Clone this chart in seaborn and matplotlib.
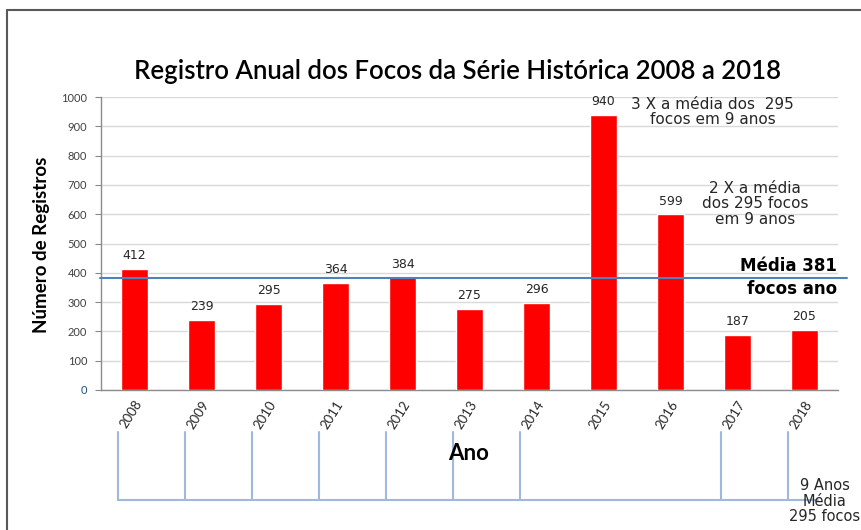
import matplotlib
matplotlib.use("Agg")
import matplotlib.pyplot as plt
from matplotlib.lines import Line2D
import matplotlib.transforms as mtransforms
import seaborn as sns
import pandas as pd

# Annual fire-focus records
years = ["2008", "2009", "2010", "2011", "2012", "2013", "2014", "2015", "2016", "2017", "2018"]
focos = [412, 239, 295, 364, 384, 275, 296, 940, 599, 187, 205]
media_anual = 381
yticks = [0, 100, 200, 300, 400, 500, 600, 700, 800, 900, 1000]
# Years tied together by the bracket under the axis (the 9-year average)
anos_media = ["2008", "2009", "2010", "2011", "2012", "2013", "2014", "2017", "2018"]

df = pd.DataFrame({"Ano": years, "Focos": focos})

sns.set_theme(style="white")
plt.rcParams["font.family"] = ["DejaVu Sans"]

W, H = 861, 530
fig = plt.figure(figsize=(W / 100, H / 100), dpi=100)
ax = fig.add_axes([101 / W, 1 - 390 / H, (838 - 101) / W, (390 - 97) / H])

sns.barplot(data=df, x="Ano", y="Focos", color="#ff0000", width=0.4,
            saturation=1, ax=ax, zorder=3)

ax.set_ylim(0, 1000)
ax.set_xlim(-0.5, 10.5)
ax.set_yticks(yticks)
ax.set_yticklabels([str(t) for t in yticks], fontfamily="Lato", fontsize=8,
                   color="#404040")
ax.set_xticks(range(len(years)))
ax.set_xticklabels(years, rotation=58, ha="right", va="top",
                   rotation_mode="anchor", fontfamily="Lato", fontsize=9.5,
                   color="#262626")
ax.tick_params(axis="y", length=4, width=0.8, color="#888888", pad=6, left=True)
ax.tick_params(axis="x", length=0, pad=6)
ax.get_yticklabels()[0].set_color("#1f4e79")

ax.yaxis.grid(True, color="#d9d9d9", linewidth=1, zorder=0)
ax.xaxis.grid(False)
for s in ["top", "right"]:
    ax.spines[s].set_visible(False)
for s in ["left", "bottom"]:
    ax.spines[s].set_color("#8c8c8c")
    ax.spines[s].set_linewidth(1)
ax.set_xlabel("")
ax.set_ylabel("")

# value labels on the bars
for i, v in enumerate(focos):
    ax.annotate(str(v), (i, v), xytext=(0, 5), textcoords="offset points",
                ha="center", va="bottom", fontsize=9, color="#262626")

# annual mean line
ax.plot([-0.52, 10.63], [media_anual, media_anual], color="#4f81bd",
        linewidth=1.5, clip_on=False, zorder=4)
ax.text(10.48, 423, f"Média {media_anual}", ha="right", va="center",
        fontsize=12, fontweight="bold", color="black")
ax.text(10.48, 345, "focos ano", ha="right", va="center",
        fontsize=12, fontweight="bold", color="black")

ax.text(8.63, 949, "3 X a média dos  295\nfocos em 9 anos", ha="center",
        va="center", fontsize=11, color="#262626", linespacing=1.05)
ax.text(9.26, 635, "2 X a média\ndos 295 focos\nem 9 anos", ha="center",
        va="center", fontsize=11, color="#262626", linespacing=1.05)

# bracket below the axis grouping the years of the 9-year average
trans = mtransforms.blended_transform_factory(ax.transData, ax.transAxes)
y_top, y_bot = -0.143, -0.375
xs = [years.index(a) - 0.25 for a in anos_media]
for x in xs:
    ax.add_line(Line2D([x, x], [y_top, y_bot], transform=trans,
                       color="#9fb8dc", linewidth=1.5, clip_on=False))
ax.add_line(Line2D([xs[0], 10.2], [y_bot, y_bot], transform=trans,
                   color="#9fb8dc", linewidth=1.5, clip_on=False))
fig.text(825 / W, 1 - 501 / H, "9 Anos\nMédia\n295 focos", ha="center",
         va="center", fontsize=10.5, color="#262626", linespacing=1.05)

# titles
fig.text(458 / W, 1 - 71 / H,
         "Registro Anual dos Focos da Série Histórica 2008 a 2018",
         ha="center", va="center", fontsize=18.5, fontfamily="Lato",
         fontweight="semibold", color="black")
fig.text(42 / W, 1 - 245 / H, "Número de Registros", rotation=90,
         ha="center", va="center", fontsize=13.5, fontweight="bold",
         fontfamily="Lato", color="black")
fig.text(469 / W, 1 - 454 / H, "Ano", ha="center", va="center",
         fontsize=16, fontweight="bold", fontfamily="Lato", color="black")

# outer frame
fig.add_artist(Line2D([7 / W, 7 / W], [1 - 10 / H, 0], transform=fig.transFigure,
                      color="#595959", linewidth=1.5))
fig.add_artist(Line2D([7 / W, 1], [1 - 10 / H, 1 - 10 / H],
                      transform=fig.transFigure, color="#595959", linewidth=1.5))

fig.savefig("out.png", dpi=100)
